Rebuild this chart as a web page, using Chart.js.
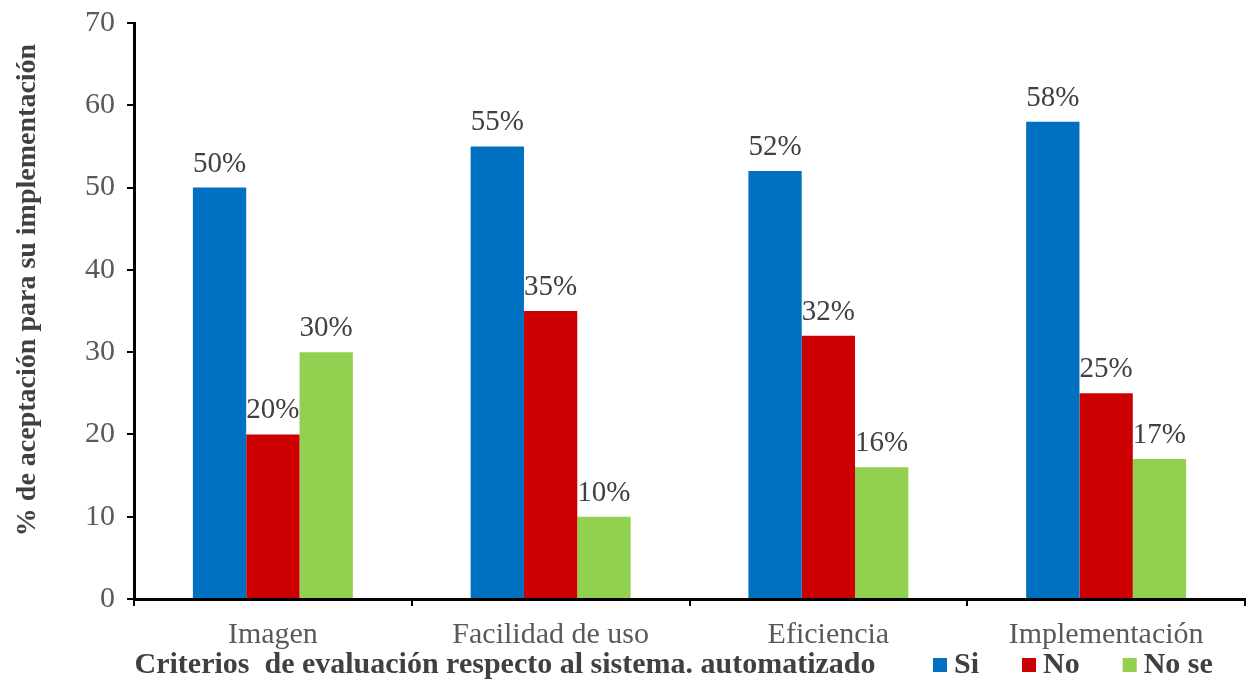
<!DOCTYPE html>
<html>
<head>
<meta charset="utf-8">
<script src="https://cdn.jsdelivr.net/npm/chart.js@4"></script>
<style>
  html, body { margin: 0; padding: 0; background: #fff; }
  #wrap { width: 1249px; height: 681px; }
</style>
</head>
<body>
<div id="wrap"><canvas id="c" width="1249" height="681"></canvas></div>
<script>
// criteria and answers
const categories = ['Imagen', 'Facilidad de uso', 'Eficiencia', 'Implementación'];
const siValues = [50, 55, 52, 58];
const noValues = [20, 35, 32, 25];
const noSeValues = [30, 10, 16, 17];
const yTicks = [0, 10, 20, 30, 40, 50, 60, 70];

const serif = '"Liberation Serif", "Times New Roman", serif';

// percent labels above each bar
const barLabels = {
    id: 'barLabels',
    afterDatasetsDraw(chart) {
        const ctx = chart.ctx;
        ctx.save();
        ctx.font = '29px ' + serif;
        ctx.fillStyle = '#404040';
        ctx.textAlign = 'center';
        ctx.textBaseline = 'alphabetic';
        chart.data.datasets.forEach((ds, i) => {
            chart.getDatasetMeta(i).data.forEach((bar, j) => {
                ctx.fillText(ds.data[j] + '%', bar.x, bar.y - 16);
            });
        });
        ctx.restore();
    }
};

// axis titles + legend drawn on the bottom row
const titlesAndLegend = {
    id: 'titlesAndLegend',
    afterDraw(chart) {
        const ctx = chart.ctx;
        const rowY = 665;
        ctx.save();
        ctx.fillStyle = '#404040';
        ctx.textBaseline = 'middle';

        // x title
        ctx.font = 'bold 30px ' + serif;
        ctx.textAlign = 'center';
        ctx.fillText('Criterios  de evaluación respecto al sistema. automatizado', 505, rowY);

        // legend
        ctx.textAlign = 'left';
        let x = 933;
        chart.data.datasets.forEach(ds => {
            ctx.fillStyle = ds.backgroundColor;
            ctx.fillRect(x, rowY - 7, 14, 14);
            ctx.fillStyle = '#404040';
            ctx.fillText(ds.label, x + 21, rowY);
            x += 21 + ctx.measureText(ds.label).width + 43;
        });

        // y title
        ctx.translate(28, 290);
        ctx.rotate(-Math.PI / 2);
        ctx.textAlign = 'center';
        ctx.font = 'bold 28px ' + serif;
        ctx.fillText('% de aceptación para su implementación', 0, 0);
        ctx.restore();
    }
};

new Chart(document.getElementById('c'), {
    type: 'bar',
    data: {
        labels: categories,
        datasets: [
            { label: 'Si', data: siValues, backgroundColor: '#0070C0' },
            { label: 'No', data: noValues, backgroundColor: '#CC0000' },
            { label: 'No se', data: noSeValues, backgroundColor: '#92D050' }
        ]
    },
    options: {
        responsive: false,
        animation: false,
        layout: { padding: { top: 0, right: 4, left: 0, bottom: 0 } },
        categoryPercentage: 0.576,
        barPercentage: 1.0,
        plugins: {
            legend: { display: false },
            tooltip: { enabled: false }
        },
        scales: {
            x: {
                grid: {
                    display: true,
                    drawOnChartArea: false,
                    offset: true,
                    color: '#000',
                    lineWidth: 2,
                    tickLength: 7
                },
                border: { color: '#000', width: 3 },
                ticks: {
                    font: { family: serif, size: 30 },
                    color: '#595959',
                    padding: 11
                },
                afterFit(scale) { scale.height = 82; }
            },
            y: {
                min: 0,
                max: 70,
                afterBuildTicks(scale) { scale.ticks = yTicks.map(v => ({ value: v })); },
                grid: {
                    display: true,
                    drawOnChartArea: false,
                    color: '#000',
                    lineWidth: 2,
                    tickLength: 7
                },
                border: { color: '#000', width: 3 },
                ticks: {
                    font: { family: serif, size: 30, lineHeight: 1.2 },
                    color: '#595959',
                    padding: 12
                },
                afterFit(scale) {
                    scale.width = 134;
                    scale.paddingTop = 23;
                }
            }
        }
    },
    plugins: [barLabels, titlesAndLegend]
});
</script>
</body>
</html>
